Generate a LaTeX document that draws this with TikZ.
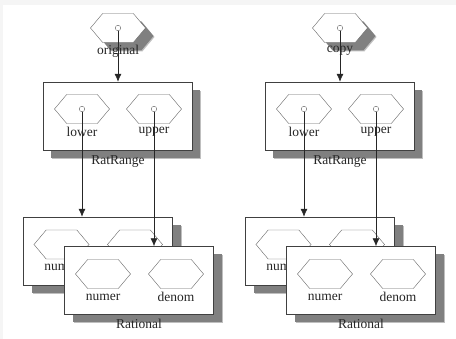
\documentclass[tikz,border=0pt]{standalone}
\usepackage{fontspec}
\setmainfont{Liberation Serif}
\usetikzlibrary{shapes.symbols,shadows,arrows.meta}
\tikzset{
  hexa/.style={signal, signal to=east and west, signal pointer angle=100,
    draw=black!60, fill=white, minimum width=55pt, minimum height=29pt, inner sep=0pt},
  port/.style={circle, draw=black!60, fill=white, minimum size=5.5pt, inner sep=0pt},
  record/.style={draw=black!75, fill=white, minimum width=149pt, minimum height=68pt, inner sep=0pt},
  shadowed/.style={
    drop shadow={shadow xshift=9pt, shadow yshift=-9pt, fill=black!25, opacity=1},
    drop shadow={shadow xshift=8pt, shadow yshift=-8pt, fill=black!50, opacity=1}},
  ptr/.style={-{Latex[length=8pt,width=7pt]}, black!85, semithick},
  lbl/.style={font=\fontsize{13.5}{15}\selectfont, text=black!85, inner sep=0pt}
}
\begin{document}
\begin{tikzpicture}[x=1pt, y=-1pt]
\useasboundingbox (0,0) rectangle (456,339);
\fill[black!4] (0,0) rectangle (456,339);
\fill[white] (3,5) rectangle (456,339);

% left: original
\node[hexa, shadowed] (O) at (118,28) {};
\node[port] (Op) at (118,28) {};
\node[lbl] (Ot) at (118,51) {original};
\node[record, shadowed] (R) at (117.5,116) {};
\node[hexa] (RL) at (82,109) {};
\node[port] (RLp) at (82,109) {};
\node[lbl] (RLt) at (82,132) {lower};
\node[hexa] (RU) at (154,109) {};
\node[port] (RUp) at (154,109) {};
\node[lbl] (RUt) at (154,132) {upper};
\node[lbl] (Rt) at (118,162) {RatRange};
\node[record, shadowed] (B) at (98,251) {};
\node[hexa] (BN) at (61.5,244.5) {};
\node[lbl] (BNt) at (61.5,267) {numer};
\node[hexa] (BD) at (135,244.5) {};
\node[lbl] (BDt) at (135,267) {denom};
\node[record, shadowed] (F) at (139,280.5) {};
\node[hexa] (FN) at (103,274) {};
\node[lbl] (FNt) at (103,297) {numer};
\node[hexa] (FD) at (176,274) {};
\node[lbl] (FDt) at (176,297) {denom};
\node[lbl] (Ft) at (139,324) {Rational};

\draw[ptr] (Op.south) -- (R.north -| Op);
\draw[ptr] (RLp.south) -- (RLp |- B.north);
\draw[ptr] (RUp.south) -- (RUp |- F.north);

% right: copy
\node[hexa, shadowed] (C) at (340,28) {};
\node[port] (Cp) at (340,28) {};
\node[lbl] (Ct) at (340,51) {copy};
\node[record, shadowed] (S) at (339.5,116) {};
\node[hexa] (SL) at (304,109) {};
\node[port] (SLp) at (304,109) {};
\node[lbl] (SLt) at (304,132) {lower};
\node[hexa] (SU) at (376,109) {};
\node[port] (SUp) at (376,109) {};
\node[lbl] (SUt) at (376,132) {upper};
\node[lbl] (St) at (340,162) {RatRange};
\node[record, shadowed] (D) at (320,251) {};
\node[hexa] (DN) at (283.5,244.5) {};
\node[lbl] (DNt) at (283.5,267) {numer};
\node[hexa] (DD) at (357,244.5) {};
\node[lbl] (DDt) at (357,267) {denom};
\node[record, shadowed] (G) at (361,280.5) {};
\node[hexa] (GN) at (325,274) {};
\node[lbl] (GNt) at (325,297) {numer};
\node[hexa] (GD) at (398,274) {};
\node[lbl] (GDt) at (398,297) {denom};
\node[lbl] (Gt) at (361,324) {Rational};

\draw[ptr] (Cp.south) -- (S.north -| Cp);
\draw[ptr] (SLp.south) -- (SLp |- D.north);
\draw[ptr] (SUp.south) -- (SUp |- G.north);
\end{tikzpicture}
\end{document}
